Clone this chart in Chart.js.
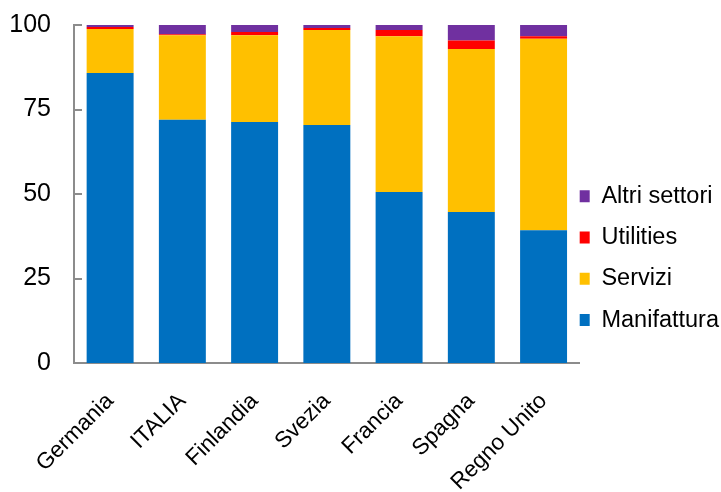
<!DOCTYPE html>
<html>
<head>
<meta charset="utf-8">
<script src="https://cdn.jsdelivr.net/npm/chart.js@4"></script>
<style>
    html, body { margin: 0; padding: 0; background: #ffffff; }
    #wrap { width: 721px; height: 492px; }
</style>
</head>
<body>
<div id="wrap"><canvas id="quoteChart" width="721" height="492"></canvas></div>
<script>
// Countries and sector shares (percent of total)
const paesi = ['Germania', 'ITALIA', 'Finlandia', 'Svezia', 'Francia', 'Spagna', 'Regno Unito'];
const manifattura = [85.8, 72.0, 71.3, 70.4, 50.6, 44.7, 39.3];
const servizi = [13.0, 25.0, 25.7, 28.1, 46.1, 48.2, 56.6];
const utilities = [0.6, 0.3, 0.9, 0.6, 1.8, 2.5, 0.8];
const altriSettori = [0.6, 2.7, 2.1, 0.9, 1.5, 4.6, 3.3];
const yTicks = [0, 25, 50, 75, 100];

const fontFamily = "'Liberation Sans', Arial, sans-serif";
const axisGray = '#8c8c8c';

// Short tick marks drawn inside the plot, on the y axis
const innerTicks = {
    id: 'innerTicks',
    afterDraw(chart) {
        const { ctx, chartArea, scales } = chart;
        ctx.save();
        ctx.strokeStyle = axisGray;
        ctx.lineWidth = 2;
        yTicks.forEach(v => {
            const y = Math.round(scales.y.getPixelForValue(v));
            ctx.beginPath();
            ctx.moveTo(chartArea.left, y);
            ctx.lineTo(chartArea.left + 8, y);
            ctx.stroke();
        });
        ctx.restore();
    }
};

const barStyle = { barPercentage: 0.65, categoryPercentage: 1.0, borderWidth: 0 };

new Chart(document.getElementById('quoteChart').getContext('2d'), {
    type: 'bar',
    data: {
        labels: paesi,
        datasets: [
            { label: 'Manifattura', data: manifattura, backgroundColor: '#0070c0', ...barStyle },
            { label: 'Servizi', data: servizi, backgroundColor: '#ffc000', ...barStyle },
            { label: 'Utilities', data: utilities, backgroundColor: '#ff0000', ...barStyle },
            { label: 'Altri settori', data: altriSettori, backgroundColor: '#7030a0', ...barStyle }
        ]
    },
    options: {
        responsive: false,
        animation: false,
        layout: { padding: { left: 0, top: 25, right: -8, bottom: 0 } },
        plugins: {
            tooltip: { enabled: false },
            legend: {
                position: 'right',
                reverse: true,
                title: { display: true, text: '', font: { size: 6, lineHeight: 1 }, padding: { top: 13, bottom: 0 } },
                labels: {
                    color: '#000000',
                    boxWidth: 12,
                    boxHeight: 12,
                    padding: -2,
                    font: { family: fontFamily, size: 23.5, lineHeight: 1.843 },
                    // single-line arrays so the row height follows the font line height
                    generateLabels: chart => Chart.defaults.plugins.legend.labels.generateLabels(chart)
                        .map(item => ({ ...item, text: [item.text] }))
                }
            }
        },
        scales: {
            x: {
                stacked: true,
                grid: { display: false, drawTicks: false },
                border: { display: true, color: axisGray, width: 2 },
                ticks: {
                    color: '#000000',
                    font: { family: fontFamily, size: 22.5 },
                    minRotation: 45,
                    maxRotation: 45,
                    padding: 25,
                    labelOffset: 0
                },
                afterFit(scale) {
                    scale.height = 129;
                    scale.paddingLeft = 0;
                    scale.paddingRight = 0;
                }
            },
            y: {
                stacked: true,
                min: 0,
                max: 100,
                grid: { display: false, drawTicks: false },
                border: { display: true, color: axisGray, width: 2 },
                ticks: {
                    color: '#000000',
                    stepSize: 25,
                    padding: 23,
                    font: { family: fontFamily, size: 25 }
                },
                afterFit(scale) {
                    scale.width = 74;
                    scale.paddingTop = 0;
                    scale.paddingBottom = 0;
                }
            }
        }
    },
    plugins: [innerTicks]
});
</script>
</body>
</html>
